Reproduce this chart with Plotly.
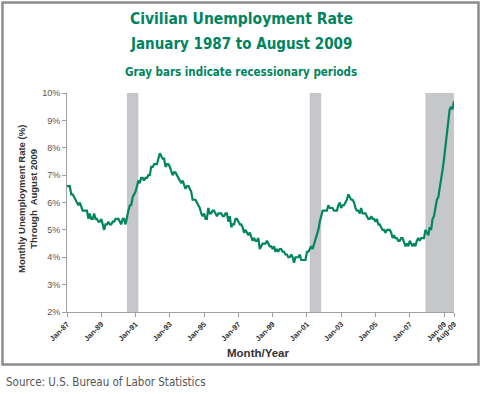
import pandas as pd
import plotly.graph_objects as go

# Monthly civilian unemployment rate (%), Jan 1987 .. Aug 2009
rate_1987_2009 = [
    6.6, 6.6, 6.6, 6.3, 6.3, 6.2, 6.1, 6.0, 5.9, 6.0, 5.8, 5.7,   # 1987
    5.7, 5.7, 5.7, 5.4, 5.6, 5.4, 5.4, 5.6, 5.4, 5.4, 5.3, 5.3,   # 1988
    5.4, 5.2, 5.0, 5.2, 5.2, 5.3, 5.2, 5.2, 5.3, 5.3, 5.4, 5.4,   # 1989
    5.4, 5.3, 5.2, 5.4, 5.4, 5.2, 5.5, 5.7, 5.9, 5.9, 6.2, 6.3,   # 1990
    6.4, 6.6, 6.8, 6.7, 6.9, 6.9, 6.8, 6.9, 6.9, 7.0, 7.0, 7.3,   # 1991
    7.3, 7.4, 7.4, 7.4, 7.6, 7.8, 7.7, 7.6, 7.6, 7.3, 7.4, 7.4,   # 1992
    7.3, 7.1, 7.0, 7.1, 7.1, 7.0, 6.9, 6.8, 6.7, 6.8, 6.6, 6.5,   # 1993
    6.6, 6.6, 6.5, 6.4, 6.1, 6.1, 6.1, 6.0, 5.9, 5.8, 5.6, 5.5,   # 1994
    5.6, 5.4, 5.4, 5.8, 5.6, 5.6, 5.7, 5.7, 5.6, 5.5, 5.6, 5.6,   # 1995
    5.6, 5.5, 5.5, 5.6, 5.6, 5.3, 5.5, 5.1, 5.2, 5.2, 5.4, 5.4,   # 1996
    5.3, 5.2, 5.2, 5.1, 4.9, 5.0, 4.9, 4.8, 4.9, 4.7, 4.6, 4.7,   # 1997
    4.6, 4.6, 4.7, 4.3, 4.4, 4.5, 4.5, 4.5, 4.6, 4.5, 4.4, 4.4,   # 1998
    4.3, 4.4, 4.2, 4.3, 4.2, 4.3, 4.3, 4.2, 4.2, 4.1, 4.1, 4.0,   # 1999
    4.0, 4.1, 4.0, 3.8, 4.0, 4.0, 4.0, 4.1, 3.9, 3.9, 3.9, 3.9,   # 2000
    4.2, 4.2, 4.3, 4.4, 4.3, 4.5, 4.6, 4.9, 5.0, 5.3, 5.5, 5.7,   # 2001
    5.7, 5.7, 5.7, 5.9, 5.8, 5.8, 5.8, 5.7, 5.7, 5.7, 5.9, 6.0,   # 2002
    5.8, 5.9, 5.9, 6.0, 6.1, 6.3, 6.2, 6.1, 6.1, 6.0, 5.8, 5.7,   # 2003
    5.7, 5.6, 5.8, 5.6, 5.6, 5.6, 5.5, 5.4, 5.4, 5.5, 5.4, 5.4,   # 2004
    5.3, 5.4, 5.2, 5.2, 5.1, 5.0, 5.0, 4.9, 5.0, 5.0, 5.0, 4.9,   # 2005
    4.7, 4.8, 4.7, 4.7, 4.6, 4.6, 4.7, 4.7, 4.5, 4.4, 4.5, 4.4,   # 2006
    4.6, 4.5, 4.4, 4.5, 4.4, 4.6, 4.7, 4.6, 4.7, 4.7, 4.7, 5.0,   # 2007
    4.9, 4.8, 5.1, 5.0, 5.4, 5.5, 5.8, 6.1, 6.2, 6.6, 6.8, 7.2,   # 2008
    7.6, 8.1, 8.5, 8.9, 9.4, 9.5, 9.4, 9.7,                       # 2009
]
months = pd.date_range("1987-01-01", periods=len(rate_1987_2009), freq="MS")

# Recession periods (start month, end month)
recession_starts = ["1990-07-01", "2001-03-01", "2007-12-01"]
recession_ends = ["1991-03-01", "2001-11-01", "2009-08-01"]

# Axis ticks
x_tick_dates = ["1987-01-01", "1989-01-01", "1991-01-01", "1993-01-01", "1995-01-01",
                "1997-01-01", "1999-01-01", "2001-01-01", "2003-01-01", "2005-01-01",
                "2007-01-01", "2009-01-01", "2009-08-01"]
x_tick_labels = ["Jan-87", "Jan-89", "Jan-91", "Jan-93", "Jan-95", "Jan-97", "Jan-99",
                 "Jan-01", "Jan-03", "Jan-05", "Jan-07", "Jan-09", "Aug-09"]
y_tick_values = [2, 3, 4, 5, 6, 7, 8, 9, 10]
y_tick_labels = [f"{v}%" for v in y_tick_values]

W, H = 482, 394
L, R, T, B = 67, 28, 93, 82
PW, PH = W - L - R, H - T - B


def px(x):
    return (x - L) / PW


def py(y):
    return (H - B - y) / PH


GREEN = "#00845E"
TITLE_FONT = "Liberation Sans Narrow, DejaVu Sans Condensed, Arial Narrow, sans-serif"

fig = go.Figure()
fig.add_trace(go.Scatter(
    x=months, y=rate_1987_2009, mode="lines",
    line=dict(color="#00875F", width=2.2), hoverinfo="skip", showlegend=False,
))

for s, e in zip(recession_starts, recession_ends):
    fig.add_shape(type="rect", xref="x", yref="y", x0=s, x1=e,
                  y0=y_tick_values[0], y1=y_tick_values[-1],
                  fillcolor="#C6C7CB", line=dict(width=0), layer="below")

# outer frame
fig.add_shape(type="rect", xref="paper", yref="paper",
              x0=px(2.5), x1=px(478.5), y0=py(364.5), y1=py(2.5),
              line=dict(color="#8C8C8C", width=2.5), fillcolor="rgba(0,0,0,0)", layer="above")

annos = [
    dict(text="<b>Civilian Unemployment Rate</b>", x=px(241), y=py(19),
         font=dict(family=TITLE_FONT, size=15.5, color=GREEN), xanchor="center", yanchor="middle"),
    dict(text="<b>January 1987 to August 2009</b>", x=px(241), y=py(44),
         font=dict(family=TITLE_FONT, size=15, color=GREEN), xanchor="center", yanchor="middle"),
    dict(text="<b>Gray bars indicate recessionary periods</b>", x=px(241), y=py(72),
         font=dict(family=TITLE_FONT, size=11.5, color=GREEN), xanchor="center", yanchor="middle"),
    dict(text="Source: U.S. Bureau of Labor Statistics", x=px(4), y=py(382),
         font=dict(family=TITLE_FONT, size=11.5, color="#555555"), xanchor="left", yanchor="middle"),
    dict(text="<b>Month/Year</b>", x=px(258), y=py(353),
         font=dict(family="Arial, Liberation Sans, sans-serif", size=11.5, color="#333333"),
         xanchor="center", yanchor="middle"),
    dict(text="<b>Monthly Unemployment Rate (%)<br>Through  August 2009</b>", x=px(27), y=py(199),
         textangle=-90,
         font=dict(family="Arial, Liberation Sans, sans-serif", size=9.5, color="#333333"),
         xanchor="center", yanchor="middle"),
]
for a in annos:
    fig.add_annotation(xref="paper", yref="paper", showarrow=False, **a)

fig.update_layout(
    width=W, height=H, margin=dict(l=L, r=R, t=T, b=B),
    paper_bgcolor="white", plot_bgcolor="white",
    xaxis=dict(
        type="date", range=[months[0], months[-1]],
        tickmode="array", tickvals=x_tick_dates, ticktext=x_tick_labels,
        tickangle=-45, ticks="outside", ticklen=4, tickcolor="#A0A0A0",
        showline=True, linecolor="#A0A0A0", linewidth=1, showgrid=False, zeroline=False,
        tickfont=dict(family="Arial, Liberation Sans, sans-serif", size=7.5, color="#333333",
                      weight="bold"),
    ),
    yaxis=dict(
        range=[y_tick_values[0], y_tick_values[-1]],
        tickmode="array", tickvals=y_tick_values, ticktext=y_tick_labels,
        ticks="outside", ticklen=4, tickcolor="#A0A0A0",
        showline=True, linecolor="#A0A0A0", linewidth=1, showgrid=False, zeroline=False,
        tickfont=dict(family="Arial, Liberation Sans, sans-serif", size=9, color="#555555"),
    ),
)

fig.write_html("out.html", config={"displayModeBar": False},
               post_script="document.body.style.margin='0';")
